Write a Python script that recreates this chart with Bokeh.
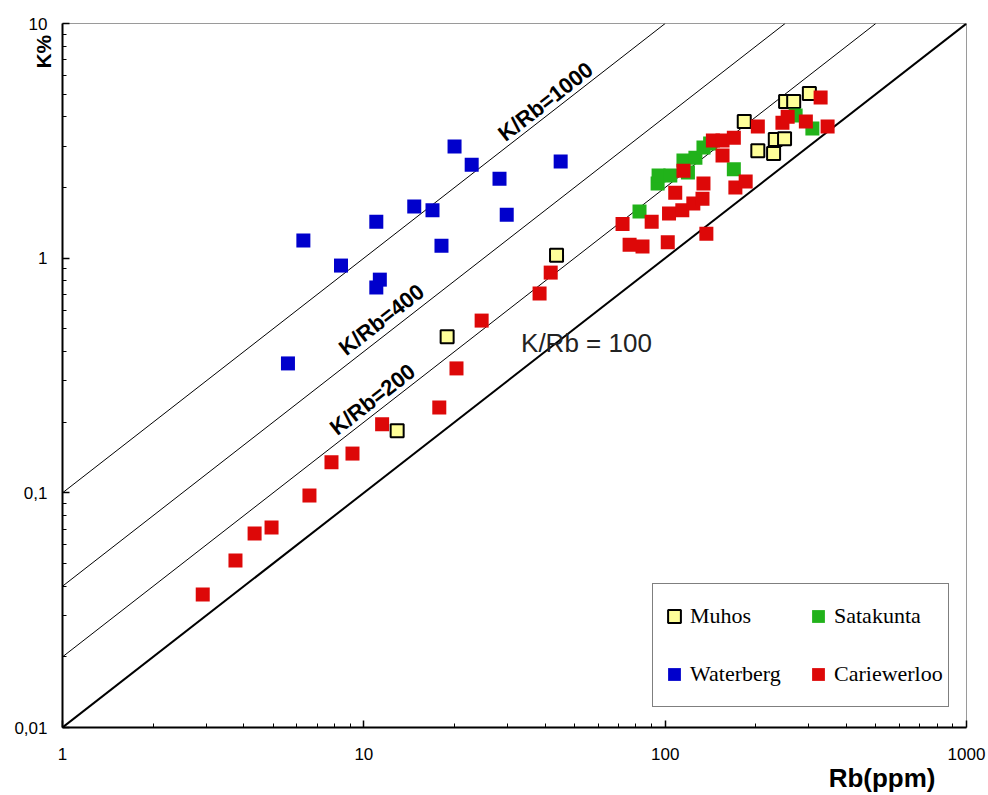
from bokeh.plotting import figure
from bokeh.models import FixedTicker, Label, Legend, LegendItem, Range1d, Title, LogAxis
from bokeh.embed import file_html
from bokeh.resources import INLINE

# ---------------- data ----------------
muhos_rb = [12.9, 18.9, 43.6, 183, 203, 229, 232, 249, 251, 267, 301]
muhos_k = [0.184, 0.463, 1.03, 3.82, 2.87, 2.79, 3.20, 3.23, 4.65, 4.65, 5.03]

waterberg_rb = [5.6, 6.3, 8.4, 11.0, 11.0, 11.3, 14.7, 16.9, 18.1, 20.0, 22.8, 28.2, 29.8, 45.0]
waterberg_k = [0.356, 1.19, 0.93, 1.43, 0.75, 0.81, 1.66, 1.60, 1.13, 2.99, 2.50, 2.18, 1.53, 2.58]

satakunta_rb = [82.2, 94.4, 95.1, 104, 115, 119, 126, 134, 141, 169, 271, 308]
satakunta_k = [1.58, 2.08, 2.25, 2.25, 2.61, 2.32, 2.68, 2.96, 3.08, 2.39, 4.05, 3.57]

cariewerloo_rb = [2.92, 3.75, 4.34, 4.94, 6.6, 7.81, 9.17, 11.5, 17.8, 20.3, 24.6, 38.3, 41.7,
                  72.2, 76.2, 84.1, 90.2, 102, 103, 108, 114, 115, 124, 133, 134, 137, 144,
                  155, 155, 169, 171, 185, 203, 245, 255, 293, 328, 346]
cariewerloo_k = [0.0369, 0.0515, 0.0671, 0.0712, 0.0974, 0.135, 0.147, 0.196, 0.231, 0.339, 0.542, 0.707, 0.868,
                 1.40, 1.14, 1.12, 1.43, 1.17, 1.55, 1.90, 1.60, 2.36, 1.71, 1.79, 2.08, 1.27, 3.17,
                 3.17, 2.74, 3.26, 2.00, 2.12, 3.64, 3.78, 4.01, 3.82, 4.84, 3.64]

kr_ratios = [100, 200, 400, 1000]
kr_labels = ["K/Rb = 100", "K/Rb=200", "K/Rb=400", "K/Rb=1000"]
kr_label_x = [54.8, 10.69, 11.45, 40.1]
kr_label_y = [0.436, 0.25, 0.547, 4.65]

x_ticks = [1, 10, 100, 1000]
x_tick_labels = ["1", "10", "100", "1000"]
y_ticks = [0.01, 0.1, 1, 10]
y_tick_labels = ["0,01", "0,1", "1", "10"]

X_MIN, X_MAX = 1, 1000
Y_MIN, Y_MAX = 0.01, 10

# ---------------- figure ----------------
p = figure(width=988, height=795, x_axis_type="log", y_axis_type="log",
           x_range=Range1d(X_MIN, X_MAX), y_range=Range1d(Y_MIN, Y_MAX),
           output_backend="svg", toolbar_location=None,
           min_border_left=62, min_border_top=23, min_border_right=22, min_border_bottom=68)
p.xgrid.visible = False
p.ygrid.visible = False
p.outline_line_color = "#9a9a9a"
p.outline_line_width = 1
p.background_fill_color = "white"
p.border_fill_color = "white"

def minor_list(lo, hi):
    out = []
    d = lo
    while d < hi:
        out += [d * m for m in range(2, 10)]
        d *= 10
    return out

p.xaxis.ticker = FixedTicker(ticks=x_ticks, minor_ticks=minor_list(X_MIN, X_MAX))
p.yaxis.ticker = FixedTicker(ticks=y_ticks, minor_ticks=minor_list(Y_MIN, Y_MAX))
p.xaxis.major_label_overrides = dict(zip(x_ticks, x_tick_labels))
p.yaxis.major_label_overrides = dict(zip(y_ticks, y_tick_labels))
for ax in (p.xaxis, p.yaxis):
    ax.axis_line_width = 2
    ax.axis_line_color = "black"
    ax.major_tick_in = 7
    ax.major_tick_out = 0
    ax.minor_tick_in = 4
    ax.minor_tick_out = 0
    ax.major_tick_line_color = "black"
    ax.minor_tick_line_color = "black"
    ax.major_tick_line_width = 1.5
    ax.major_label_text_font = "Liberation Sans"
    ax.major_label_text_font_size = "17px"
    ax.major_label_text_color = "black"
p.xaxis.major_label_standoff = 20
p.yaxis.major_label_standoff = 15

# y-axis title "K%" near the top end of the axis: an extra, otherwise invisible axis.
# Leading no-break spaces move the (centred) title up towards the top of the axis.
k_title = "\u00a0" * 111 + "K%"
k_axis = LogAxis(ticker=FixedTicker(ticks=[]),
                 axis_label=k_title, axis_label_standoff=-43,
                 axis_label_text_font="Liberation Sans",
                 axis_label_text_font_size="21px",
                 axis_label_text_font_style="bold",
                 axis_label_text_color="black",
                 axis_line_alpha=0, major_tick_in=0, major_tick_out=0,
                 minor_tick_in=0, minor_tick_out=0,
                 major_label_text_font_size="0px")
p.add_layout(k_axis, "left")

# x-axis title at the right end, below the tick labels
p.add_layout(Title(text="Rb(ppm)", align="right", offset=31, standoff=-3,
                   text_font="Liberation Sans", text_font_size="26px",
                   text_font_style="bold", text_color="black"), "below")

# ---------------- K/Rb reference lines ----------------
for r in kr_ratios:
    x_end = min(X_MAX, Y_MAX * 1e4 / r)
    xs = [X_MIN, x_end]
    ys = [r * x / 1e4 for x in xs]
    p.line(xs, ys, line_color="black", line_width=2 if r == 100 else 1)

# ---------------- points ----------------
SZ = 14
r_wat = p.scatter(waterberg_rb, waterberg_k, marker="square", size=SZ,
                  fill_color="#0000CC", line_color=None)
r_muh = p.scatter(muhos_rb, muhos_k, marker="square", size=SZ - 1,
                  fill_color="#FFFF99", line_color="black", line_width=2)
r_sat = p.scatter(satakunta_rb, satakunta_k, marker="square", size=SZ,
                  fill_color="#21B21A", line_color=None)
r_car = p.scatter(cariewerloo_rb, cariewerloo_k, marker="square", size=SZ,
                  fill_color="#DD0808", line_color=None)

# ---------------- ratio labels ----------------
for lab, lx, ly, r in zip(kr_labels, kr_label_x, kr_label_y, kr_ratios):
    if r == 100:
        p.add_layout(Label(x=lx, y=ly, text=lab, text_font="Liberation Sans",
                           text_font_size="26px", text_color="#222222",
                           text_align="center", text_baseline="middle"))
    else:
        p.add_layout(Label(x=lx, y=ly, text=lab, text_font="Liberation Sans",
                           text_font_size="22px", text_font_style="bold",
                           text_color="black", angle=0.661,
                           text_align="center", text_baseline="middle"))

# ---------------- legend ----------------
legend = Legend(items=[LegendItem(label="Muhos", renderers=[r_muh]),
                       LegendItem(label="Waterberg", renderers=[r_wat]),
                       LegendItem(label="Satakunta", renderers=[r_sat]),
                       LegendItem(label="Cariewerloo", renderers=[r_car])],
                location=(590, 20), ncols=2,
                padding=5, spacing=4, margin=0,
                glyph_width=32, glyph_height=54, label_height=54,
                label_width=108, label_standoff=0,
                label_text_font="Liberation Serif", label_text_font_size="22px",
                label_text_color="black",
                border_line_color="black", border_line_width=1,
                background_fill_color="white", background_fill_alpha=1)
p.add_layout(legend)

open("out.html", "w").write(file_html(p, INLINE))
